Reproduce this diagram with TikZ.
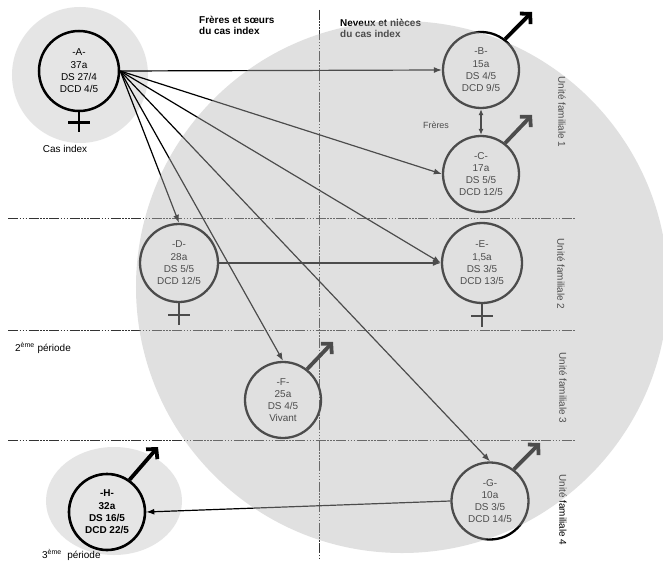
\documentclass[tikz,border=0pt]{standalone}
\usepackage{fontspec}
\setmainfont{Liberation Sans}
\usetikzlibrary{arrows.meta,calc}
\begin{document}
\begin{tikzpicture}[x=1bp,y=-1bp,
  person/.style={circle,draw=black,line width=2.3bp,minimum size=76bp,inner sep=0pt,align=center,font=\fontsize{10}{12.3}\selectfont},
  link/.style={line width=1.2bp,-{Latex[length=8bp,width=6bp]}},
  maleline/.style={line width=3.8bp,-{Straight Barb[length=7bp,width=15bp]}},
  crossline/.style={line width=2.6bp},
  sepline/.style={draw=black!80,line width=1bp,dash pattern=on 10bp off 1.5bp on 1.5bp off 1.5bp on 1.5bp off 1.5bp on 1.5bp off 1.5bp},
  halo/.style={fill=black!10},
  lbl/.style={font=\fontsize{10}{12}\selectfont,inner sep=0pt},
  hdr/.style={font=\bfseries\fontsize{10}{11.5}\selectfont,align=left,anchor=north west,inner sep=0pt},
  ]
\useasboundingbox (0,0) rectangle (663,563);
\fill[white] (0,0) rectangle (663,563);
% halos
\fill[halo] (80,75) circle (68bp);
\fill[halo] (114,501) ellipse (68bp and 54bp);
% separators
\coordinate (s1a) at (8,218); \coordinate (s1b) at (575,218);
\coordinate (s2a) at (8,330); \coordinate (s2b) at (575,330);
\coordinate (s3a) at (8,440); \coordinate (s3b) at (575,440);
\coordinate (v1a) at (319,10); \coordinate (v1b) at (319,560);
\draw[sepline] (s1a) -- (s1b);
\draw[sepline] (s2a) -- (s2b);
\draw[sepline] (s3a) -- (s3b);
\draw[sepline] (v1a) -- (v1b);
% headers
\node[hdr] (h1) at (199,16) {Frères et sœurs\\du cas index};
\node[hdr] (h2) at (340,19) {Neveux et nièces\\du cas index};
% persons
\node[person,minimum size=80bp,line width=2.5bp] (A) at (79,71) {-A-\\37a\\DS 27/4\\DCD 4/5};
\node[person] (B) at (481,70) {-B-\\15a\\DS 4/5\\DCD 9/5};
\node[person] (C) at (481,174) {-C-\\17a\\DS 5/5\\DCD 12/5};
\node[person,minimum size=78bp] (D) at (179,263) {-D-\\28a\\DS 5/5\\DCD 12/5};
\node[person,minimum size=80bp] (E) at (482,263) {-E-\\1,5a\\DS 3/5\\DCD 13/5};
\node[person] (F) at (283,400) {-F-\\25a\\DS 4/5\\Vivant};
\node[person,minimum size=77bp] (G) at (490,501) {-G-\\10a\\DS 3/5\\DCD 14/5};
\node[person,line width=2.6bp,font=\bfseries\fontsize{10}{12.3}\selectfont] (H) at (107,512) {-H-\\32a\\DS 16/5\\DCD 22/5};
% labels
\node[lbl] (cas) at (65,149) {Cas index};
\node[lbl,anchor=west] (p2) at (15,348) {2\textsuperscript{ème} période};
\node[lbl,anchor=west] (p3) at (42,555) {3\textsuperscript{ème}\ \ période};
\node[lbl,font=\fontsize{9}{10}\selectfont] (fr) at (436,125) {Frères};
\node[lbl,rotate=-90] (u1) at (562,112) {Unité familiale 1};
\node[lbl,rotate=-90] (u2) at (561,274) {Unité familiale 2};
\node[lbl,rotate=-90] (u3) at (563,388) {Unité familiale 3};
\node[lbl,rotate=-90] (u4) at (563,510) {Unité familiale 4};
% connectors
\draw[link] (A.east) -- (B.west);
\draw[link] (A.east) -- (C.west);
\draw[link] (A.east) -- (D.north);
\draw[link] (A.east) -- (E.west);
\draw[link] (A.east) -- (F.north);
\draw[link] (A.east) -- (G.north);
\draw[link] (D.east) -- (E.west);
\draw[link] (G.west) -- (H.east);
\draw[line width=1.2bp,{Latex[length=6bp,width=5bp]}-{Latex[length=6bp,width=5bp]}] (B.south) -- (C.north);
% male symbols
\coordinate (Bt) at (532,12);
\coordinate (Ct) at (532,115);
\coordinate (Ft) at (333,342);
\coordinate (Gt) at (540,443);
\coordinate (Ht) at (158,447);
\draw[maleline] (B.52) -- (Bt);
\draw[maleline] (C.52) -- (Ct);
\draw[maleline] (F.52) -- (Ft);
\draw[maleline] (G.53) -- (Gt);
\draw[maleline] (H.55) -- (Ht);
% female symbols
\draw[crossline] (A.south) -- ++(0,20);
\draw[crossline] ($(A.south)+(-11,10)$) -- ++(22,0);
\draw[crossline] (D.south) -- ++(0,22);
\draw[crossline] ($(D.south)+(-11,12)$) -- ++(22,0);
\draw[crossline] (E.south) -- ++(0,23);
\draw[crossline] ($(E.south)+(-11,12)$) -- ++(22,0);
% overlay of the large family area
\fill[black!28.6,fill opacity=0.42] (402,287) circle (266bp);
\end{tikzpicture}
\end{document}
